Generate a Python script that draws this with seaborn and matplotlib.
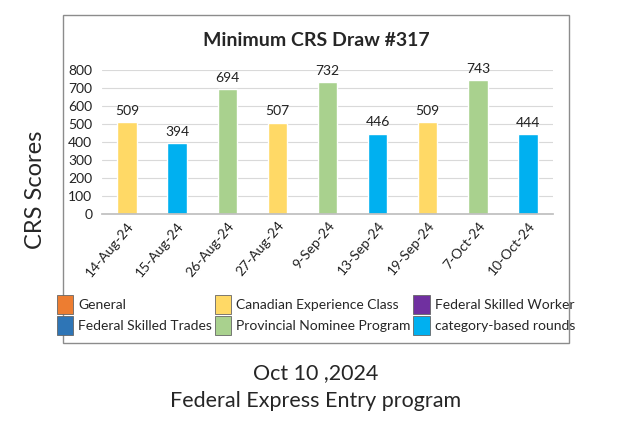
import pandas as pd
import numpy as np
import seaborn as sns
import matplotlib.pyplot as plt
from matplotlib.patches import Rectangle, Patch

dates = ['14-Aug-24', '15-Aug-24', '26-Aug-24', '27-Aug-24', '9-Sep-24',
         '13-Sep-24', '19-Sep-24', '7-Oct-24', '10-Oct-24']
scores = [509, 394, 694, 507, 732, 446, 509, 743, 444]
programs = ['Canadian Experience Class', 'category-based rounds', 'Provincial Nominee Program',
            'Canadian Experience Class', 'Provincial Nominee Program', 'category-based rounds',
            'Canadian Experience Class', 'Provincial Nominee Program', 'category-based rounds']

legend_names = ['General', 'Federal Skilled Trades', 'Canadian Experience Class',
                'Provincial Nominee Program', 'Federal Skilled Worker', 'category-based rounds']
colors = {'General': '#ED7D31', 'Federal Skilled Trades': '#2E75B6',
          'Canadian Experience Class': '#FFD966', 'Provincial Nominee Program': '#A9D18E',
          'Federal Skilled Worker': '#7030A0', 'category-based rounds': '#00B0F0'}

df = pd.DataFrame({'date': dates, 'score': scores, 'program': programs})

sns.set_theme(style='white')
plt.rcParams['font.family'] = ['Lato', 'DejaVu Sans']

fig = plt.figure(figsize=(6.3, 4.3), dpi=100)
fig.patch.set_facecolor('white')
# chart frame
fig.add_artist(Rectangle((63 / 630, 1 - 343 / 430), 506 / 630, 328 / 430,
                         transform=fig.transFigure, fill=False, edgecolor='#8c8c8c', lw=1))

ax = fig.add_axes([102 / 630, 1 - 214 / 430, 451 / 630, 144 / 430])
sns.barplot(data=df, x='date', y='score', hue='program', palette=colors,
            dodge=False, width=0.39, legend=False, ax=ax, saturation=1)

for i, v in enumerate(scores):
    ax.text(i, v + 30, str(v), ha='center', va='bottom', fontsize=10, color='#222222')

ax.set_ylim(0, 800)
ax.set_yticks(range(0, 801, 100))
ax.grid(axis='y', color='#d9d9d9', lw=0.8)
ax.set_axisbelow(True)
for s in ['top', 'right', 'left']:
    ax.spines[s].set_visible(False)
ax.spines['bottom'].set_color('#bfbfbf')
ax.tick_params(axis='y', labelsize=10, length=0, pad=7, colors='#222222')
ax.tick_params(axis='x', labelsize=10, length=0, pad=4, colors='#222222')
plt.setp(ax.get_xticklabels(), rotation=50, ha='right', rotation_mode='anchor')
ax.set_xlabel('')
ax.set_ylabel('')
ax.set_xlim(-0.5, len(dates) - 0.5)

fig.text(316 / 630, 1 - 41 / 430, 'Minimum CRS Draw #317', ha='center', va='center',
         fontsize=14, fontweight='bold')
fig.text(35 / 630, 1 - 190 / 430, 'CRS Scores', rotation=90, ha='center', va='center',
         fontsize=17)
fig.text(316 / 630, 1 - 373 / 430, 'Oct 10 ,2024', ha='center', va='center', fontsize=15.5)
fig.text(316 / 630, 1 - 401 / 430, 'Federal Express Entry program', ha='center', va='center',
         fontsize=15.5)

handles = [Patch(facecolor=colors[n], edgecolor='#666666', lw=0.6) for n in legend_names]
fig.legend(handles, legend_names, ncol=3, loc='center', bbox_to_anchor=(316 / 630, 1 - 315 / 430),
           frameon=False, fontsize=10, handlelength=1.2, handleheight=1.7, handletextpad=0.35,
           columnspacing=0.2, labelspacing=0.2, borderpad=0.2)

fig.savefig('out.png', dpi=100)
